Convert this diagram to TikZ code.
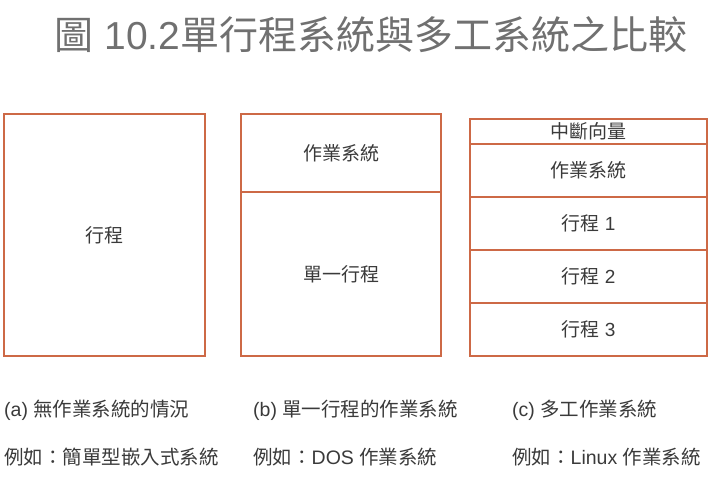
\documentclass[tikz,border=0pt]{standalone}
\usepackage{fontspec}
\setmainfont{Liberation Sans}
\newfontfamily\cjk{Noto Sans CJK TC}
\usetikzlibrary{positioning}
\definecolor{boxline}{RGB}{205,105,70}
\definecolor{titlegray}{RGB}{112,112,112}
\definecolor{textgray}{RGB}{58,58,58}
\newcommand{\zh}[1]{{\cjk #1}}
\tikzset{
  title/.style={
    inner sep=0,
    text=titlegray,
    font=\fontsize{39}{45}\selectfont
  },
  layer/.style={
    draw=boxline,
    line width=1.1pt,
    inner sep=0,
    outer sep=0,
    minimum width=#1,
    text=textgray,
    font=\fontsize{19}{22}\selectfont
  },
  caption/.style={
    anchor=west,
    inner sep=0,
    text=textgray,
    font=\fontsize{19.5}{23}\selectfont
  }
}
\begin{document}
\begin{tikzpicture}[x=1pt,y=-1pt]
  \useasboundingbox (0,0) rectangle (722,480);
  \node[title] (title) at (371,35) {\zh{圖} 10.2\zh{單行程系統與多工系統之比較}};
  % (a) no operating system
  \node[layer=201, minimum height=242] (aproc) at (104.5,235) {\zh{行程}};
  % (b) single process
  \node[layer=200, minimum height=78, anchor=north] (bos) at (341,114) {\zh{作業系統}};
  \node[layer=200, minimum height=164, below=0pt of bos] (bproc) {\zh{單一行程}};
  % (c) multitasking
  \node[layer=237, minimum height=25, anchor=north] (cvec) at (588.5,119) {\zh{中斷向量}};
  \node[layer=237, minimum height=53, below=0pt of cvec] (cos) {\zh{作業系統}};
  \foreach \i/\prev in {1/cos,2/cproc1,3/cproc2}
    \node[layer=237, minimum height=53, below=0pt of \prev] (cproc\i) {\zh{行程} \i};
  % captions
  \node[caption] (capa) at (4,410) {(a) \zh{無作業系統的情況}};
  \node[caption] (capb) at (253,410) {(b) \zh{單一行程的作業系統}};
  \node[caption] (capc) at (512,410) {(c) \zh{多工作業系統}};
  \node[caption] (exa) at (4,457) {\zh{例如：簡單型嵌入式系統}};
  \node[caption] (exb) at (253,457) {\zh{例如：}DOS \zh{作業系統}};
  \node[caption] (exc) at (512,457) {\zh{例如：}Linux \zh{作業系統}};
\end{tikzpicture}
\end{document}
